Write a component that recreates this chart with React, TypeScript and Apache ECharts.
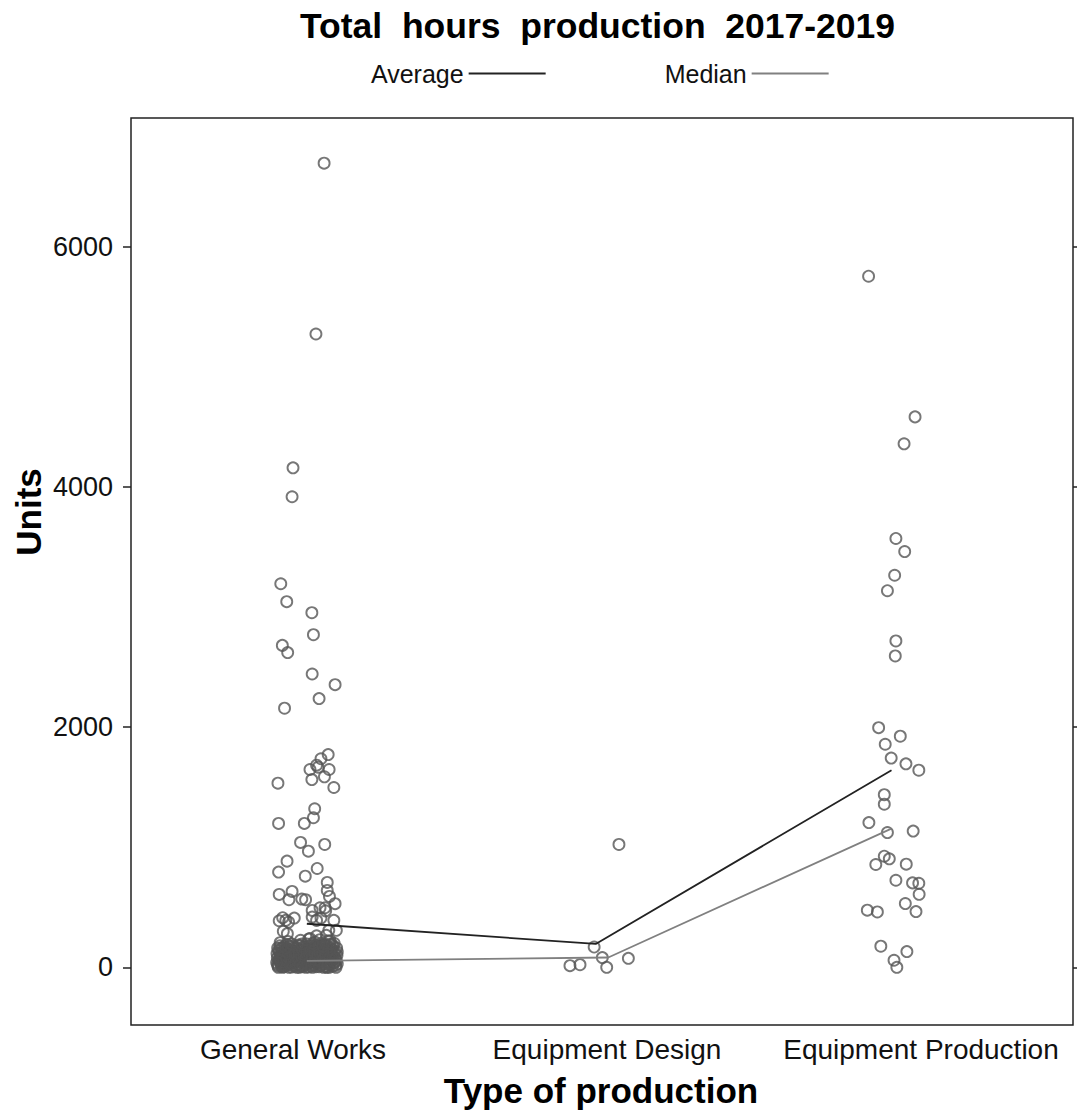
import React, { useEffect, useRef } from "react";
import * as echarts from "echarts";

const categories = ["General Works", "Equipment Design", "Equipment Production"];
const yTicks = [0, 2000, 4000, 6000];

// [jittered x position (category units), units]
const generalWorksUpper: number[][] = [
  [1.115, 6694], [1.089, 5272], [1.016, 4158], [1.013, 3917], [0.977, 3193], [0.996, 3044],
  [1.076, 2952], [1.081, 2769], [0.982, 2680], [0.999, 2620], [1.077, 2442], [1.15, 2353],
  [1.099, 2237], [0.989, 2157], [1.128, 1771], [1.105, 1736], [1.091, 1683], [1.07, 1647],
  [1.096, 1666], [1.131, 1647], [1.076, 1563], [1.116, 1586], [0.968, 1533], [1.146, 1497],
  [1.085, 1320], [1.081, 1245], [0.97, 1198], [1.052, 1198], [1.04, 1040], [1.065, 967],
  [1.117, 1023], [0.997, 884], [0.97, 793], [1.055, 759], [1.093, 823], [1.125, 707],
  [1.125, 640], [1.132, 590], [0.972, 607], [1.013, 632], [1.003, 563], [1.044, 568],
  [1.056, 563], [1.15, 530], [1.102, 496], [1.077, 474], [1.118, 496], [0.983, 413],
  [0.993, 391], [1.02, 410], [0.972, 388], [1.002, 377], [1.077, 418], [1.105, 410],
  [1.12, 470], [1.146, 391], [1.13, 308], [1.122, 266], [1.154, 308], [0.998, 280],
  [1.091, 391], [1.066, 235], [1.091, 262], [1.134, 220], [0.985, 300],
];

const generalWorksCluster: number[][] = [
  [0.968, 12], [0.972, 48], [0.975, 95], [0.97, 140], [0.978, 30], [0.982, 160], [0.985, 70],
  [0.988, 5], [0.99, 115], [0.994, 40], [0.996, 150], [0.999, 85], [1.002, 20], [1.004, 175],
  [1.006, 60], [1.009, 120], [1.011, 2], [1.013, 95], [1.016, 35], [1.018, 165], [1.02, 75],
  [1.023, 10], [1.025, 130], [1.027, 50], [1.03, 100], [1.032, 25], [1.034, 185], [1.037, 65],
  [1.039, 140], [1.041, 8], [1.044, 110], [1.046, 45], [1.048, 170], [1.051, 80], [1.053, 15],
  [1.055, 125], [1.058, 55], [1.06, 195], [1.062, 90], [1.065, 3], [1.067, 145], [1.069, 38],
  [1.072, 105], [1.074, 68], [1.076, 180], [1.079, 18], [1.081, 130], [1.083, 52], [1.086, 210],
  [1.088, 88], [1.09, 6], [1.093, 160], [1.095, 42], [1.097, 118], [1.1, 72], [1.102, 230],
  [1.104, 14], [1.107, 150], [1.109, 58], [1.111, 100], [1.114, 28], [1.116, 190], [1.118, 80],
  [1.121, 4], [1.123, 135], [1.125, 46], [1.128, 220], [1.13, 95], [1.132, 20], [1.135, 160],
  [1.137, 62], [1.139, 110], [1.142, 9], [1.144, 175], [1.146, 36], [1.148, 85], [1.15, 130],
  [1.152, 15], [1.154, 55], [0.966, 80], [0.974, 180], [0.98, 110], [0.987, 25], [0.992, 60],
  [0.998, 130], [1.003, 0], [1.008, 150], [1.014, 45], [1.019, 110], [1.026, 80], [1.031, 140],
  [1.036, 0], [1.042, 60], [1.049, 130], [1.054, 30], [1.061, 110], [1.066, 70], [1.071, 160],
  [1.078, 0], [1.084, 95], [1.091, 130], [1.096, 25], [1.103, 180], [1.108, 85], [1.113, 0],
  [1.119, 140], [1.126, 70], [1.131, 0], [1.136, 120], [1.141, 60], [1.147, 200], [1.153, 0],
  [1.156, 100], [0.969, 0], [0.983, 0], [1.0, 40], [1.028, 0], [1.057, 0], [1.092, 50],
  [1.124, 0], [1.149, 40], [1.07, 240], [1.04, 225], [1.0, 215], [0.975, 205],
  [0.967, 25], [0.971, 65], [0.973, 120], [0.976, 160], [0.979, 8], [0.981, 88], [0.984, 135],
  [0.986, 45], [0.989, 175], [0.991, 15], [0.993, 100], [0.995, 68], [0.997, 190], [1.001, 110],
  [1.005, 30], [1.007, 88], [1.01, 140], [1.012, 55], [1.015, 180], [1.017, 12], [1.021, 125],
  [1.022, 92], [1.024, 40], [1.029, 160], [1.033, 70], [1.035, 115], [1.038, 22], [1.04, 180],
  [1.043, 85], [1.045, 150], [1.047, 5], [1.05, 105], [1.052, 165], [1.056, 75], [1.059, 140],
  [1.063, 30], [1.064, 175], [1.068, 115], [1.07, 50], [1.073, 135], [1.075, 10], [1.077, 85],
  [1.08, 160], [1.082, 35], [1.085, 120], [1.087, 60], [1.089, 185], [1.094, 100], [1.098, 170],
  [1.099, 5], [1.101, 125], [1.105, 40], [1.106, 200], [1.11, 115], [1.112, 65], [1.115, 150],
  [1.117, 10], [1.12, 105], [1.122, 185], [1.127, 30], [1.129, 145], [1.133, 80], [1.134, 195],
  [1.138, 35], [1.14, 150], [1.143, 90], [1.145, 125], [1.151, 70], [1.155, 160], [1.157, 30],
  [0.965, 115], [0.967, 160], [0.977, 58], [0.993, 160], [1.012, 195], [1.045, 195], [1.078, 200],
  [1.111, 175], [1.14, 190], [0.964, 40], [1.157, 130],
];

const equipmentDesign: number[][] = [
  [2.054, 1023], [1.975, 169], [2.001, 81], [2.084, 75], [1.898, 14], [1.93, 22], [2.015, 0],
];

const equipmentProduction: number[][] = [
  [2.849, 5753], [2.997, 4582], [2.962, 4358], [2.936, 3570], [2.964, 3461], [2.932, 3264],
  [2.909, 3135], [2.936, 2717], [2.934, 2592], [2.881, 1995], [2.95, 1924], [2.902, 1857],
  [2.921, 1742], [2.968, 1694], [3.009, 1641], [2.899, 1437], [2.899, 1358], [2.85, 1205],
  [2.909, 1122], [2.991, 1134], [2.899, 925], [2.915, 903], [2.872, 856], [2.969, 859],
  [2.936, 725], [2.989, 703], [3.009, 700], [3.01, 608], [2.966, 531], [3.0, 464],
  [2.845, 476], [2.877, 461], [2.888, 176], [2.971, 131], [2.93, 59], [2.939, 0],
];

const averageLine: number[][] = [[1.06, 363], [1.98, 195], [2.922, 1640]];
const medianLine: number[][] = [[1.06, 54], [2.02, 82], [2.92, 1153]];

const FONT = "'Liberation Sans', Arial, sans-serif";

export default function App() {
  const ref = useRef<HTMLDivElement>(null);
  useEffect(() => {
    if (!ref.current) return;
    const chart = echarts.init(ref.current, null, { renderer: "svg" });
    const points = [
      ...generalWorksUpper,
      ...generalWorksCluster,
      ...equipmentDesign,
      ...equipmentProduction,
    ];
    chart.setOption({
      animation: false,
      backgroundColor: "#ffffff",
      textStyle: { fontFamily: FONT },
      title: {
        text: "Total  hours  production  2017-2019",
        left: 295,
        top: 3,
        textStyle: { fontFamily: FONT, fontSize: 35.5, fontWeight: "bold", color: "#000" },
      },
      legend: {
        data: ["Average", "Median"],
        align: "right",
        icon: "rect",
        itemWidth: 77,
        itemHeight: 2,
        itemGap: 119,
        left: 366,
        top: 56,
        textStyle: { fontFamily: FONT, fontSize: 25, color: "#111" },
      },
      grid: {
        left: 131,
        right: 4,
        top: 118,
        bottom: 90,
        show: true,
        borderColor: "#222",
        borderWidth: 1.5,
        backgroundColor: "transparent",
      },
      xAxis: [
        {
          type: "category",
          data: categories,
          boundaryGap: true,
          axisLine: { show: false },
          axisTick: { show: false },
          splitLine: { show: false },
          axisLabel: {
            interval: 0,
            hideOverlap: false,
            fontFamily: FONT,
            fontSize: 28,
            color: "#111",
            margin: 10,
            padding: [0, 0, 0, 10],
          },
        },
        {
          type: "value",
          min: 0.5,
          max: 3.5,
          show: false,
          splitLine: { show: false },
        },
      ],
      yAxis: [
        {
          type: "value",
          min: -480,
          max: 7070,
          position: "left",
          axisLine: { show: false },
          splitLine: { show: false },
          axisTick: {
            show: true,
            length: 8,
            customValues: yTicks,
            lineStyle: { color: "#222", width: 1.5 },
          },
          axisLabel: {
            customValues: yTicks,
            formatter: (v: number) => String(v),
            fontFamily: FONT,
            fontSize: 27,
            color: "#111",
            margin: 18,
          },
        },
        {
          type: "value",
          min: -480,
          max: 7070,
          position: "right",
          axisLine: { show: false },
          splitLine: { show: false },
          axisTick: {
            show: true,
            length: 8,
            customValues: yTicks,
            lineStyle: { color: "#222", width: 1.5 },
          },
          axisLabel: { show: false },
        },
      ],
      series: [
        {
          type: "scatter",
          name: "Points",
          xAxisIndex: 1,
          yAxisIndex: 0,
          data: points,
          symbol: "circle",
          symbolSize: 11,
          itemStyle: { color: "rgba(255,255,255,0)", borderColor: "#555", borderWidth: 1.9 },
          z: 2,
        },
        {
          type: "line",
          name: "Average",
          xAxisIndex: 1,
          yAxisIndex: 0,
          data: averageLine,
          symbol: "none",
          color: "#222",
          lineStyle: { color: "#222", width: 1.8 },
          z: 3,
        },
        {
          type: "line",
          name: "Median",
          xAxisIndex: 1,
          yAxisIndex: 0,
          data: medianLine,
          symbol: "none",
          color: "#808080",
          lineStyle: { color: "#808080", width: 1.8 },
          z: 3,
        },
      ],
      graphic: [
        {
          type: "text",
          x: 28,
          y: 512,
          rotation: Math.PI / 2,
          style: {
            text: "Units",
            font: `bold 35px ${FONT}`,
            fill: "#000",
            textAlign: "center",
            textVerticalAlign: "middle",
          },
        },
        {
          type: "text",
          x: 601,
          y: 1090,
          style: {
            text: "Type of production",
            font: `bold 35px ${FONT}`,
            fill: "#000",
            textAlign: "center",
            textVerticalAlign: "middle",
          },
        },
      ],
    });
    return () => chart.dispose();
  }, []);
  return (
    <div
      ref={ref}
      style={{ position: "fixed", left: 0, top: 0, width: 1077, height: 1115, background: "#fff" }}
    />
  );
}
